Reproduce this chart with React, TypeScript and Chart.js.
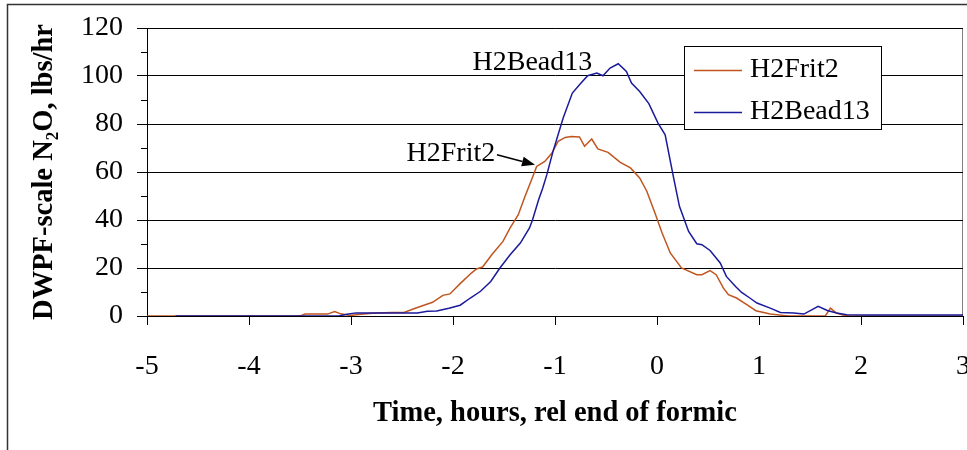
import React, { useEffect, useRef } from "react";
import { Chart, registerables } from "chart.js";

Chart.register(...registerables);

// ---- data ----
const seriesNames = ["H2Frit2", "H2Bead13"];
const seriesColors = ["#C0561F", "#1A1A9C"];

const frit2X = [-5, -3.5, -3.45, -3.23, -3.16, -3.1, -3.01, -2.95, -2.82, -2.75, -2.6, -2.48, -2.39, -2.3, -2.2, -2.1, -2.03, -1.93, -1.82, -1.77, -1.71, -1.62, -1.51, -1.44, -1.36, -1.3, -1.23, -1.18, -1.1, -1.03, -0.97, -0.9, -0.84, -0.76, -0.71, -0.64, -0.58, -0.48, -0.36, -0.26, -0.17, -0.1, -0.02, 0.05, 0.13, 0.24, 0.39, 0.44, 0.52, 0.58, 0.65, 0.7, 0.78, 0.88, 0.97, 1.11, 1.24, 1.3, 1.65, 1.7, 1.76, 1.83, 1.9, 3.0];
const frit2Y = [0, 0, 0.8, 0.8, 1.9, 0.9, 0.2, 0.5, 1.0, 1.25, 1.5, 1.5, 2.9, 4.3, 5.7, 8.6, 9.2, 13.5, 17.9, 19.6, 20.4, 25.5, 31.1, 36.7, 42.2, 49.2, 56.8, 62.3, 64.4, 67.9, 72.8, 74.4, 74.8, 74.6, 70.7, 73.75, 69.6, 68.2, 64, 61.7, 57.5, 52, 42.9, 34.6, 26.25, 20, 17.2, 17.2, 18.9, 17.2, 11.7, 8.9, 7.5, 4.7, 2.2, 0.8, 0.25, 0, 0, 3.3, 1.25, 0.3, 0, 0];

const bead13X = [-4.72, -3.12, -3.04, -2.95, -2.35, -2.25, -2.16, -2.04, -1.93, -1.83, -1.73, -1.63, -1.54, -1.44, -1.34, -1.25, -1.22, -1.16, -1.12, -1.08, -1.02, -0.92, -0.83, -0.76, -0.68, -0.59, -0.53, -0.46, -0.38, -0.3, -0.25, -0.17, -0.08, 0.01, 0.08, 0.16, 0.22, 0.31, 0.39, 0.44, 0.52, 0.62, 0.68, 0.77, 0.83, 0.91, 0.98, 1.11, 1.21, 1.34, 1.44, 1.58, 1.67, 1.76, 1.86, 2.0, 3.0];
const bead13Y = [0, 0, 0.7, 1.3, 1.3, 2.0, 2.1, 3.2, 4.5, 7.5, 10.3, 14.4, 20, 25.5, 30.4, 36.7, 40.1, 48.5, 53.3, 58.9, 68.5, 82.5, 92.9, 96.4, 100.1, 101.25, 100.1, 103.3, 105.1, 101.9, 97.1, 93.5, 88.5, 80.4, 75.5, 58.2, 45.7, 35.25, 30.1, 29.7, 27.3, 22.1, 16.5, 12.3, 9.8, 7.5, 5.4, 3.3, 1.5, 1.25, 0.8, 4.0, 2.3, 1.25, 0.5, 0.4, 0.4];

const xAxisRange = [-5, 3];
const yAxisRange = [0, 120];
const yMinorTicks = [10, 30, 50, 70, 90, 110];

const xTitle = "Time, hours, rel end of formic";
const yTitle = "DWPF-scale N\u2082O, lbs/hr";

// annotation labels (data coordinates)
const annotationTexts = ["H2Bead13", "H2Frit2"];
const annotationX = [-1.222, -2.021];
const annotationY = [105.5, 67.6];
const arrowFrom = [-1.569, 67.2];
const arrowTo = [-1.196, 63.0];

const FONT = '"Liberation Serif", "Times New Roman", serif';

export default function App() {
  const ref = useRef<HTMLCanvasElement | null>(null);

  useEffect(() => {
    const canvas = ref.current;
    if (!canvas) return;

    const decor = {
      id: "decor",
      beforeDraw(chart: any) {
        const { ctx, chartArea: a } = chart;
        ctx.save();
        ctx.fillStyle = "#ffffff";
        ctx.fillRect(0, 0, chart.width, chart.height);
        // outer chart frame
        ctx.strokeStyle = "#333333";
        ctx.lineWidth = 1.5;
        ctx.beginPath();
        ctx.moveTo(7.5, chart.height + 5);
        ctx.lineTo(7.5, 4.5);
        ctx.lineTo(chart.width + 5, 4.5);
        ctx.stroke();
        // plot area border
        ctx.strokeStyle = "#808080";
        ctx.lineWidth = 1;
        ctx.strokeRect(a.left + 0.5, a.top + 0.5, a.right - a.left - 1, a.bottom - a.top);
        ctx.restore();
      },
      afterDraw(chart: any) {
        const { ctx, chartArea: a, scales } = chart;
        const xs = scales.x;
        const ys = scales.y;
        ctx.save();
        // minor y ticks
        ctx.strokeStyle = "#000";
        ctx.lineWidth = 1;
        yMinorTicks.forEach((v) => {
          const py = Math.round(ys.getPixelForValue(v)) + 0.5;
          ctx.beginPath();
          ctx.moveTo(a.left - 6, py);
          ctx.lineTo(a.left, py);
          ctx.stroke();
        });
        // annotations
        ctx.fillStyle = "#000";
        ctx.font = `normal normal 28px ${FONT}`;
        ctx.textAlign = "center";
        ctx.textBaseline = "middle";
        annotationTexts.forEach((t, i) => {
          ctx.fillText(t, xs.getPixelForValue(annotationX[i]), ys.getPixelForValue(annotationY[i]));
        });
        // arrow
        const x1 = xs.getPixelForValue(arrowFrom[0]);
        const y1 = ys.getPixelForValue(arrowFrom[1]);
        const x2 = xs.getPixelForValue(arrowTo[0]);
        const y2 = ys.getPixelForValue(arrowTo[1]);
        const ang = Math.atan2(y2 - y1, x2 - x1);
        const hl = 13;
        const hw = 5;
        const bx = x2 - hl * Math.cos(ang);
        const by = y2 - hl * Math.sin(ang);
        ctx.strokeStyle = "#000";
        ctx.lineWidth = 1.5;
        ctx.beginPath();
        ctx.moveTo(x1, y1);
        ctx.lineTo(bx, by);
        ctx.stroke();
        ctx.beginPath();
        ctx.moveTo(x2, y2);
        ctx.lineTo(bx + hw * Math.sin(ang), by - hw * Math.cos(ang));
        ctx.lineTo(bx - hw * Math.sin(ang), by + hw * Math.cos(ang));
        ctx.closePath();
        ctx.fill();
        // legend
        const lx = 684.5;
        const ly = 46.5;
        const lw = 197;
        const lh = 83;
        ctx.fillStyle = "#fff";
        ctx.fillRect(lx, ly, lw, lh);
        ctx.strokeStyle = "#000";
        ctx.lineWidth = 1;
        ctx.strokeRect(lx, ly, lw, lh);
        ctx.textAlign = "left";
        chart.data.datasets.forEach((ds: any, i: number) => {
          const cy = 70 + i * 41.7;
          ctx.strokeStyle = ds.borderColor;
          ctx.lineWidth = 1.5;
          ctx.beginPath();
          ctx.moveTo(694, Math.round(cy) + 0.5);
          ctx.lineTo(742, Math.round(cy) + 0.5);
          ctx.stroke();
          ctx.fillStyle = "#000";
          ctx.fillText(ds.label, 750, cy);
        });
        ctx.restore();
      },
    };

    const chart = new Chart(canvas, {
      type: "line",
      data: {
        datasets: [
          {
            label: seriesNames[0],
            data: frit2X.map((x, i) => ({ x, y: frit2Y[i] })),
            borderColor: seriesColors[0],
            backgroundColor: seriesColors[0],
            borderWidth: 1.5,
            pointRadius: 0,
            tension: 0,
            fill: false,
            order: 1,
          },
          {
            label: seriesNames[1],
            data: bead13X.map((x, i) => ({ x, y: bead13Y[i] })),
            borderColor: seriesColors[1],
            backgroundColor: seriesColors[1],
            borderWidth: 1.5,
            pointRadius: 0,
            tension: 0,
            fill: false,
            order: 0,
          },
        ],
      },
      options: {
        responsive: false,
        animation: false,
        devicePixelRatio: 1,
        layout: { padding: { top: 28, right: 4, bottom: 0, left: 0 } },
        plugins: { legend: { display: false }, tooltip: { enabled: false } },
        scales: {
          x: {
            type: "linear",
            position: "bottom",
            min: xAxisRange[0],
            max: xAxisRange[1],
            ticks: {
              stepSize: 1,
              color: "#000",
              font: { family: FONT, size: 28 },
              padding: 25,
              maxRotation: 0,
              autoSkip: false,
              callback: (v: any) => String(v),
            },
            grid: { display: true, drawOnChartArea: false, drawTicks: true, tickLength: 9, color: "#000", lineWidth: 1 },
            border: { display: true, color: "#000", width: 1 },
            title: {
              display: true,
              text: xTitle,
              color: "#000",
              font: { family: FONT, size: 28.5, weight: "bold" },
              padding: { top: 0, bottom: 19 },
            },
            afterFit: (s: any) => {
              s.height = 134;
              s.paddingLeft = 0;
              s.paddingRight = 0;
            },
          },
          y: {
            type: "linear",
            min: yAxisRange[0],
            max: yAxisRange[1],
            ticks: {
              stepSize: 20,
              color: "#000",
              font: { family: FONT, size: 28 },
              padding: 14,
            },
            grid: { display: true, drawTicks: true, tickLength: 10, color: "#000", lineWidth: 1 },
            border: { display: true, color: "#000", width: 1 },
            title: {
              display: true,
              text: yTitle,
              color: "#000",
              font: { family: FONT, size: 28.5, weight: "bold" },
              padding: { top: 28, bottom: 0 },
            },
            afterFit: (s: any) => {
              s.width = 147;
              s.paddingTop = 0;
              s.paddingBottom = 0;
            },
          },
        },
      },
      plugins: [decor],
    } as any);

    return () => chart.destroy();
  }, []);

  return (
    <div style={{ position: "fixed", left: 0, top: 0, width: 967, height: 450, background: "#fff" }}>
      <canvas ref={ref} width={967} height={450} style={{ display: "block", width: 967, height: 450 }} />
    </div>
  );
}
